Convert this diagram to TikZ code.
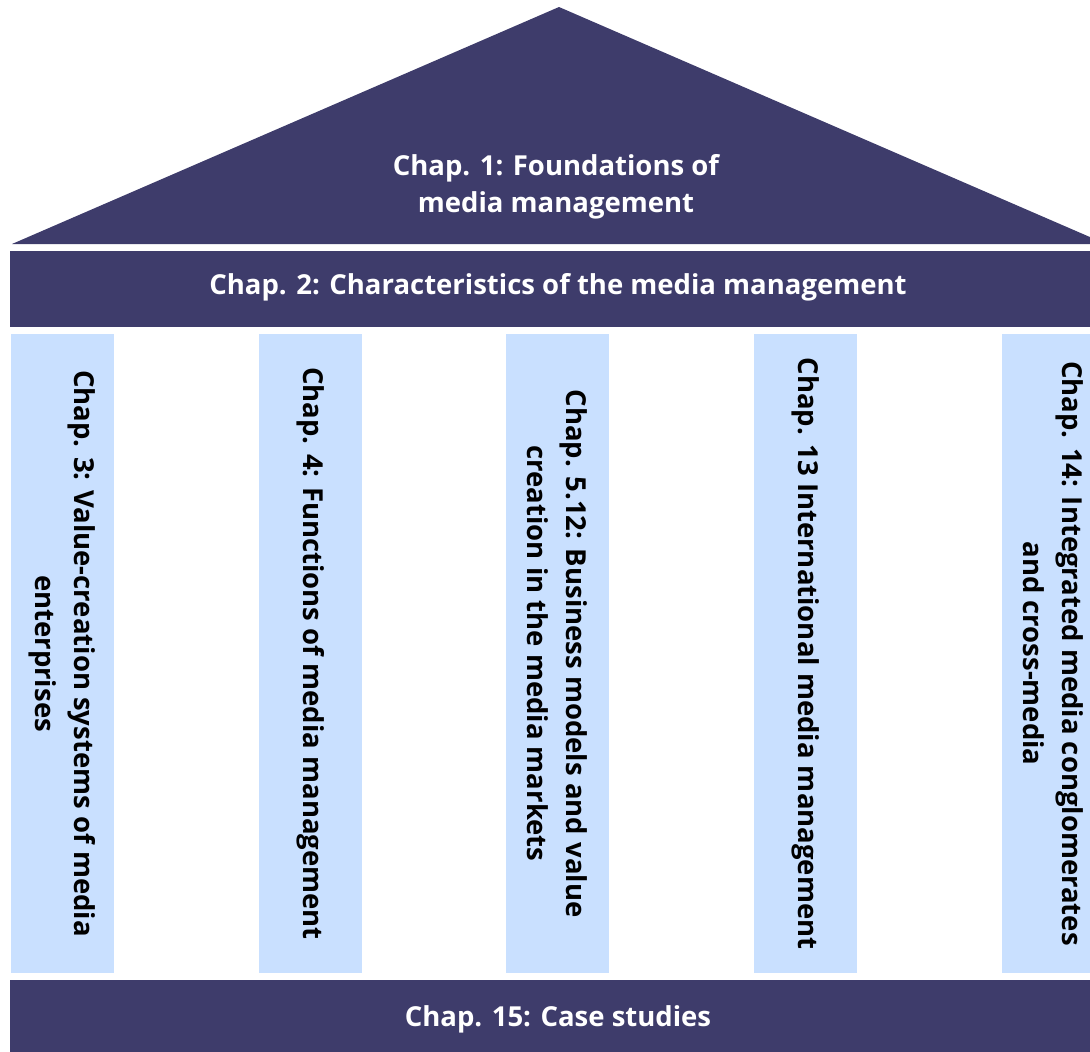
\documentclass[tikz,border=0pt]{standalone}
\usepackage{fontspec}
\setmainfont{Open Sans}
\definecolor{housedark}{HTML}{3E3C6B}
\definecolor{pillarlight}{HTML}{C9E0FF}
\tikzset{
  bandtext/.style={text=white, font=\bfseries\fontsize{27.5}{37}\selectfont, align=center},
  pillar/.style={fill=pillarlight, rotate=-90, minimum width=639pt, minimum height=103pt,
    inner sep=0pt, text=black, font=\bfseries\fontsize{27.5}{39}\selectfont, align=center}
}
\begin{document}
\begin{tikzpicture}[x=1pt,y=-1pt]
    % constants
    \def\pillarmid{653.5}
    \useasboundingbox (0,0) rectangle (1090,1052);
    % roof nodes
    \coordinate (roofleft) at (12,244);
    \coordinate (roofright) at (1106,244);
    \coordinate (apex) at (559,7);
    % roof
    \fill [housedark] (roofleft) -- (apex) -- (roofright) -- cycle;
    \node [bandtext] (chap1) at (556,187) {Chap. 1: Foundations of\\media management};
    % top band
    \fill [housedark] (10,251) rectangle (1106,327);
    \node [bandtext] (chap2) at (558,287) {Chap. 2: Characteristics of the media management};
    % pillars
    \node [pillar] (chap3) at (62.5,\pillarmid) {Chap. 3: Value-creation systems of media\\enterprises};
    \node [pillar] (chap4) at (310.5,\pillarmid) {Chap. 4: Functions of media management};
    \node [pillar] (chap5) at (557.5,\pillarmid) {Chap. 5.12: Business models and value\\creation in the media markets};
    \node [pillar] (chap13) at (805.5,\pillarmid) {Chap. 13 International media management};
    \node [pillar] (chap14) at (1053.5,\pillarmid) {Chap. 14: Integrated media conglomerates\\and cross-media};
    % base
    \fill [housedark] (10,980) rectangle (1106,1060);
    \node [bandtext] (chap15) at (558,1019) {Chap. 15: Case studies};
\end{tikzpicture}
\end{document}
